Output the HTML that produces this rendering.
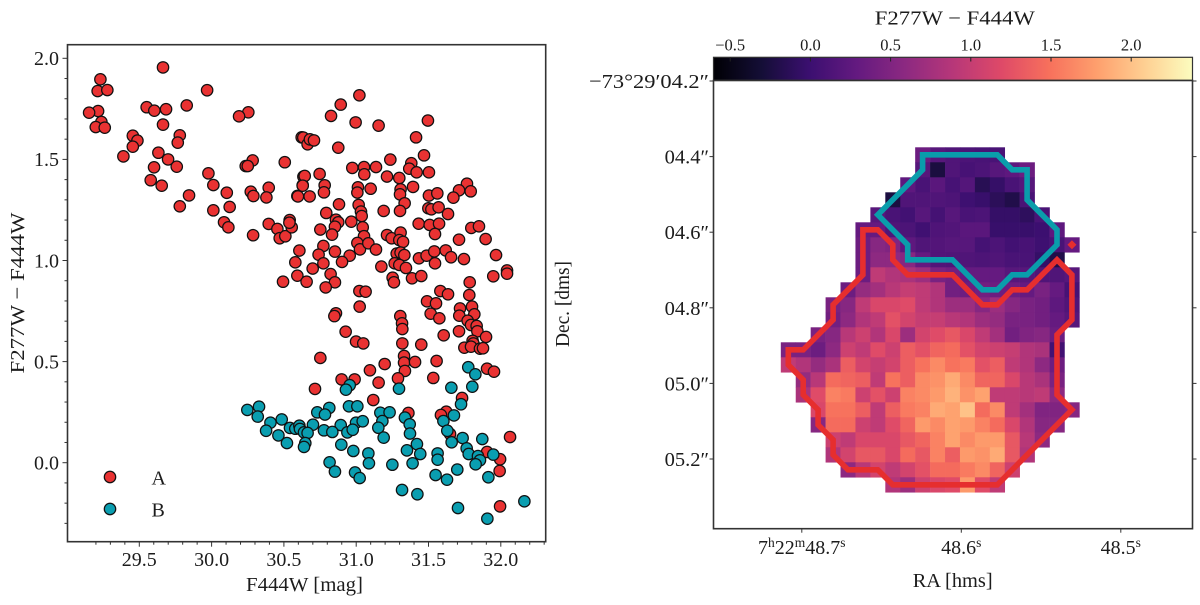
<!DOCTYPE html>
<html lang="en">
<head>
<meta charset="utf-8">
<title>F277W - F444W colour-magnitude diagram and colour map</title>
<style>
html,body{margin:0;padding:0;background:#fff;width:1200px;height:605px;overflow:hidden}
svg{display:block}
text{font-family:"Liberation Serif","DejaVu Serif",serif;fill:#1c1c1c}
</style>
</head>
<body>
<svg id="fig" xmlns="http://www.w3.org/2000/svg" width="1200" height="605" viewBox="0 0 1200 605">
  <defs>
    <linearGradient id="magma" x1="0" y1="0" x2="1" y2="0">
      <stop offset="0" stop-color="#000004"/><stop offset="0.1" stop-color="#140e36"/>
      <stop offset="0.2" stop-color="#3b0f70"/><stop offset="0.3" stop-color="#641a80"/>
      <stop offset="0.4" stop-color="#8c2981"/><stop offset="0.5" stop-color="#b73779"/>
      <stop offset="0.6" stop-color="#de4968"/><stop offset="0.7" stop-color="#f7705c"/>
      <stop offset="0.8" stop-color="#fe9f6d"/><stop offset="0.9" stop-color="#fecf92"/>
      <stop offset="1" stop-color="#fcfdbf"/>
    </linearGradient>
  </defs>
  <g id="left"></g>
  <g id="right"></g>
</svg>
<script>
// ---- scatter data: F444W [mag] and F277W-F444W for each region ----
const seriesAMag = [29.664,29.231,29.212,29.279,29.969,29.551,29.604,29.685,29.828,29.215,29.153,29.238,29.199,29.261,29.664,30.254,30.190,29.455,29.487,29.455,29.390,29.780,29.766,29.632,29.699,29.759,29.602,29.579,29.655,29.978,30.012,29.844,29.780,30.012,30.105,30.125,30.086,30.116,30.287,30.284,30.236,30.250,30.506,30.395,30.271,30.289,30.379,30.593,30.623,30.635,30.630,30.395,30.455,30.471,30.510,30.554,30.540,30.538,30.607,30.579,30.593,30.494,
31.022,30.893,30.826,30.996,31.155,31.496,31.414,30.634,30.664,30.680,30.708,30.876,31.469,31.236,31.381,31.367,31.418,31.503,30.973,31.054,31.056,31.137,31.213,31.298,30.747,30.644,30.630,30.782,30.777,30.597,30.678,31.012,31.008,31.100,31.393,31.307,31.303,31.335,31.503,31.561,31.766,31.711,31.792,31.672,30.881,31.017,31.033,31.038,30.793,31.190,31.303,31.499,31.520,31.570,31.635,31.432,31.508,31.573,31.796,31.849,30.860,30.876,30.853,30.966,30.752,30.833,31.045,31.054,31.008,31.026,31.084,31.137,31.213,31.245,31.307,31.298,31.324,31.545,31.711,31.895,30.773,30.740,30.853,30.773,30.955,30.902,30.699,30.823,30.657,30.853,31.280,31.307,31.333,31.266,31.298,31.344,31.174,31.434,31.487,31.540,31.619,31.656,31.545,31.745,31.967,32.043,32.043,31.948,31.252,31.261,31.386,31.450,31.785,
30.789,31.022,31.065,31.582,31.635,31.782,31.490,31.552,31.024,31.718,31.801,30.860,30.849,31.305,31.515,31.575,31.713,31.817,31.771,31.794,31.833,31.317,31.319,31.838,31.711,30.927,31.605,31.898,30.999,31.049,31.319,31.450,31.805,31.810,31.748,31.794,31.856,31.877,30.752,31.331,31.331,31.407,31.556,31.197,31.095,31.337,31.905,31.953,31.533,30.899,30.989,31.289,31.155,30.715,31.118,31.732,31.361,31.623,31.586,31.649,32.064,31.905,31.995,31.992,31.995];
const seriesAColor = [1.955,1.896,1.838,1.843,1.842,1.758,1.741,1.748,1.767,1.739,1.731,1.685,1.660,1.657,1.672,1.733,1.713,1.617,1.593,1.563,1.515,1.619,1.583,1.533,1.500,1.464,1.461,1.397,1.370,1.431,1.373,1.322,1.268,1.248,1.335,1.265,1.189,1.164,1.125,1.495,1.467,1.467,1.486,1.360,1.340,1.319,1.312,1.319,1.609,1.415,1.373,1.181,1.156,1.110,1.120,1.164,1.200,1.187,1.049,0.991,0.925,0.895,
1.817,1.771,1.715,1.683,1.667,1.692,1.609,1.608,1.575,1.599,1.594,1.558,1.520,1.499,1.481,1.454,1.436,1.436,1.458,1.462,1.426,1.462,1.415,1.408,1.428,1.418,1.370,1.372,1.337,1.317,1.317,1.362,1.336,1.355,1.364,1.352,1.327,1.283,1.321,1.332,1.380,1.347,1.342,1.311,1.278,1.275,1.242,1.220,1.235,1.245,1.245,1.258,1.253,1.263,1.230,1.182,1.176,1.182,1.161,1.169,1.202,1.189,1.167,1.192,1.153,1.128,1.164,1.120,1.087,1.055,1.085,1.054,1.126,1.110,1.138,1.101,1.092,1.131,1.103,1.106,1.072,1.029,1.044,0.986,1.024,0.993,0.960,0.933,0.895,0.892,1.034,1.039,1.027,0.986,0.978,0.963,0.970,1.011,1.024,1.045,1.050,1.016,0.986,1.007,1.027,0.951,0.935,0.922,0.915,0.892,0.912,0.923,0.892,
0.867,0.849,0.846,0.849,0.833,0.829,0.798,0.788,0.772,0.763,0.772,0.739,0.725,0.725,0.737,0.714,0.727,0.734,0.702,0.681,0.676,0.689,0.661,0.650,0.650,0.648,0.630,0.622,0.599,0.590,0.590,0.584,0.603,0.590,0.569,0.574,0.564,0.566,0.518,0.528,0.495,0.498,0.503,0.488,0.457,0.454,0.465,0.450,0.419,0.412,0.412,0.417,0.396,0.365,0.310,0.320,0.246,0.252,0.236,0.142,0.127,0.053,0.017,-0.041,-0.216];
const seriesBMag = [31.775,31.824,31.658,31.803,30.955,30.929,31.296,31.725,30.814,30.731,30.784,30.950,31.008,31.167,31.231,31.181,31.337,31.676,31.603,30.485,30.701,30.893,30.999,31.045,31.370,31.153,30.542,30.579,30.607,30.611,30.639,30.664,30.777,30.835,30.939,30.976,31.630,31.372,31.190,31.736,31.872,31.660,30.521,30.648,30.639,30.897,31.420,30.980,31.351,31.764,31.778,31.084,31.443,31.563,31.563,31.842,31.948,31.856,31.826,31.088,30.816,31.250,31.390,30.853,30.992,31.024,31.549,31.699,31.628,31.914,31.317,31.423,31.704,32.163,31.907,30.247,30.328,30.319,30.407,30.377,30.462];
const seriesBColor = [0.472,0.437,0.371,0.376,0.383,0.361,0.366,0.289,0.271,0.249,0.238,0.279,0.279,0.247,0.249,0.206,0.223,0.234,0.206,0.214,0.188,0.186,0.198,0.205,0.190,0.173,0.172,0.168,0.183,0.167,0.150,0.147,0.160,0.152,0.150,0.163,0.158,0.144,0.124,0.122,0.117,0.101,0.097,0.097,0.078,0.089,0.092,0.058,0.061,0.071,0.043,0.046,0.043,0.046,0.015,0.033,0.040,0.012,-0.008,-0.003,0.002,-0.010,-0.003,-0.044,-0.048,-0.076,-0.061,-0.034,-0.084,-0.072,-0.135,-0.156,-0.224,-0.191,-0.277,0.261,0.277,0.228,0.198,0.158,0.135];
const xTickLabels = ["29.5","30.0","30.5","31.0","31.5","32.0"];
const yTickLabels = ["0.0","0.5","1.0","1.5","2.0"];

// ---- colour map data: F277W-F444W per pixel (rows top to bottom, 20 columns) ----
const _ = null;
const mapValues = [
[_,_,_,_,_,_,_,_,_,.35,.2,.15,.12,.1,.1,_,_,_,_,_],
[_,_,_,_,_,_,_,_,_,.2,-.25,.15,.08,.12,.2,.25,.35,_,_,_],
[_,_,_,_,_,_,_,_,.25,.1,.22,.08,.18,-.15,-.05,.1,.2,_,_,_],
[_,_,_,_,_,_,_,-.25,.15,.15,.15,.13,.02,-.03,-.12,-.2,.1,_,_,_],
[_,_,_,_,_,_,.2,.1,.05,.2,.07,.2,.1,.12,-.05,-.05,-.1,.1,_,_],
[_,_,_,_,_,.3,.3,.15,.12,.03,.14,.16,.22,.22,-.03,-.03,-.03,0,.25,_],
[_,_,_,_,_,.35,.55,.5,.25,.15,.17,.2,.2,.07,.12,.05,.09,.02,.1,.3],
[_,_,_,_,_,.35,.6,.6,.55,.3,.16,.15,.15,.13,.15,.1,.1,-.05,-.2,_],
[_,_,_,_,_,.35,.95,.85,.8,.7,.45,.4,.3,.3,.3,.2,.2,.15,.15,.2],
[_,_,_,_,.35,.65,.75,.9,1,.95,.85,.4,.35,.4,.35,.35,.3,.45,.3,.08],
[_,_,_,.45,.55,.95,1.15,1.15,1.2,.95,.85,.7,.7,.55,.7,.55,.45,.4,.25,.15],
[_,_,_,.4,.6,.85,.95,1.25,1.1,1,1,.9,.85,.7,.65,.45,.45,.4,.3,.2],
[_,_,.45,.55,.9,1.05,.85,1.15,.7,1.1,1.2,1.3,1.15,.95,.75,.4,.5,.55,.35,_],
[.45,.45,.35,.6,1.05,.95,1.2,1.05,1.35,1.25,1.4,1.45,1.25,1.1,1.05,1,.85,.8,.05,_],
[.95,.85,.65,.8,1.35,1.1,1,1.1,1.35,1.5,1.65,1.5,1.55,1.25,1.35,.95,.85,.6,.35,_],
[_,.65,.9,1.45,1.4,1.35,.95,1.5,1.35,1.65,1.7,1.85,1.65,1.4,1.4,1.15,.9,.8,.45,_],
[_,.8,1.2,1.6,1.55,1.05,1.25,1.05,1.6,1.65,1.75,1.9,1.7,1.8,.95,.95,.9,.95,.6,_],
[_,_,1.15,1.5,1.5,1.35,.95,1.35,1.55,1.6,1.85,1.8,2,1.45,1.65,.95,.75,.5,.5,.55],
[_,_,.55,1.45,1.45,1.05,.95,1.2,1.4,1.75,1.65,1.8,1.75,1.6,1.45,1.15,.85,.55,.55,_],
[_,_,_,1.05,.95,1.15,1.15,1.15,1.3,1.4,1.6,1.8,1.65,1.75,1.75,1.3,.9,.6,_,_],
[_,_,_,.85,1.1,1.3,1.3,1.15,1.45,1.3,1.6,1.35,1.75,1.7,1.85,1.3,.85,_,_,_],
[_,_,_,_,.6,.9,1.1,.95,1.1,1.25,1.45,1.45,1.55,1.65,1.4,1.05,_,_,_,_],
[_,_,_,_,_,_,_,.85,.7,1.05,1.15,1.2,1.75,1.2,.95,_,_,_,_,_]
];
// contour vertices in map pixel units (column, row)
const contourBColumns = [9.5,14.5,15.5,16.5,16.5,18.5,18.5,16.5,15.5,14.5,13.5,11.5,8.5,8.5,6.5,9.5];
const contourBRows    = [0.5,0.5,1.5,1.5,3.5,5.5,6.5,8.5,8.5,9.5,9.5,7.5,7.5,6.5,4.5,1.5];
const contourAColumns = [5.5,6.5,7.5,7.5,8.5,11.5,13.5,14.5,15.5,16.5,18.5,19.5,19.5,18.5,18.5,19.5,14.5,7.5,6.5,4.5,3.5,3.5,2.5,2.5,1.5,1.5,0.5,0.5,1.5,3.5,3.5,5.5];
const contourARows    = [5.5,5.5,6.5,7.5,8.5,8.5,10.5,10.5,9.5,9.5,7.5,8.5,11.5,12.5,16.5,17.5,22.5,22.5,21.5,21.5,20.5,19.5,18.5,17.5,16.5,15.5,14.5,13.5,13.5,11.5,10.5,8.5];
const isolatedPixelColumn = [19.5];
const isolatedPixelRow = [6.5];
const raTickLabels = [["7","h","22","m","48.7","s"],["48.6","s"],["48.5","s"]];
const decTickLabels = ["\u221273\u00b029\u203204.2\u2033","04.4\u2033","04.6\u2033","04.8\u2033","05.0\u2033","05.2\u2033"];
const colorbarTicks = ["\u22120.5","0.0","0.5","1.0","1.5","2.0"];

// ---- helpers ----
const NS = "http://www.w3.org/2000/svg";
function mk(parent, tag, props, txt){
  const e = document.createElementNS(NS, tag);
  for (const k in props) e.setAttribute(k, props[k]);
  if (txt !== undefined) e.textContent = txt;
  parent.appendChild(e);
  return e;
}
const left = document.getElementById("left");
const right = document.getElementById("right");

// ---- scatter axes ----
const xMag = v => 139.3 + (v - 29.5) * 144.6;
const yCol = v => 462.7 - v * 202.2;
const L = {l:67.5, r:545.7, t:44.7, b:541.7};
const RED = "#e93232", TEAL = "#0a9eb0";

function dots(xs, ys, fill, name){
  const g = mk(left, "g", {});
  
  
  xs.forEach((x, i) => {
    const c = mk(g, "circle", {cx:xMag(x).toFixed(2), cy:yCol(ys[i]).toFixed(2), r:5.7, fill:fill, stroke:"#111", "stroke-width":1.25});
    
    
  });
}
dots(seriesAMag, seriesAColor, RED, "series-a-points");
dots(seriesBMag, seriesBColor, TEAL, "series-b-points");

const lframe = mk(left, "rect", {x:L.l, y:L.t, width:L.r-L.l, height:L.b-L.t, fill:"none", stroke:"#333", "stroke-width":1.6});



// minor + major ticks are placed from the axis functions
for (let i = 0; i <= 32; i++){
  const v = 29.2 + i * 0.1;
  const px = xMag(v);
  if (px < L.l || px > L.r) continue;
  const major = Math.abs(v * 2 - Math.round(v * 2)) < 1e-6;
  const t = mk(left, "line", {x1:px, x2:px, y1:L.b, y2:L.b + (major ? 5 : 3), stroke:"#333", "stroke-width":1});
  
  
}
for (let i = 0; i <= 30; i++){
  const v = -0.3 + i * 0.1;
  const py = yCol(v);
  if (py < L.t || py > L.b) continue;
  const major = Math.abs(v * 2 - Math.round(v * 2)) < 1e-6;
  const t = mk(left, "line", {x1:L.l, x2:L.l - (major ? 5 : 3), y1:py, y2:py, stroke:"#333", "stroke-width":1});
  
  
}
xTickLabels.forEach(s => {
  const t = mk(left, "text", {x:xMag(parseFloat(s)), y:566, "text-anchor":"middle", "font-size":20}, s);
  
  
});
yTickLabels.forEach(s => {
  const t = mk(left, "text", {x:59, y:yCol(parseFloat(s)) + 6.8, "text-anchor":"end", "font-size":20}, s);
  
  
});
const xt = mk(left, "text", {x:304.5, y:591, "text-anchor":"middle", "font-size":20, textLength:117, lengthAdjust:"spacingAndGlyphs"}, "F444W [mag]");


const yt = mk(left, "text", {x:0, y:0, transform:"translate(24 293) rotate(-90)", "text-anchor":"middle", "font-size":20.5, textLength:161, lengthAdjust:"spacingAndGlyphs"}, "F277W \u2212 F444W");



// legend
const legendEntries = [["A", RED], ["B", TEAL]];
legendEntries.forEach((en, i) => {
  const g = mk(left, "g", {});
  
  
  const yy = 477 + i * 32;
  mk(g, "circle", {cx:110, cy:yy, r:5.7, fill:en[1], stroke:"#111", "stroke-width":1.25});
  mk(g, "text", {x:151.5, y:yy + 7.6, "font-size":20}, en[0]);
});

// ---- colour map ----
const R = {l:713.5, r:1192.5, t:80.5, b:528.7};
const vMin = -0.6, vMax = 2.38;
const magma = [[0,0,4],[20,14,54],[59,15,112],[100,26,128],[140,41,129],[183,55,121],[222,73,104],[247,112,92],[254,159,109],[254,207,146],[252,253,191]];
function cmap(v){
  let t = (v - vMin) / (vMax - vMin) * 10;
  t = Math.max(0, Math.min(9.999, t));
  const i = Math.floor(t), f = t - i;
  const c = magma[i].map((a, k) => Math.round(a + (magma[i + 1][k] - a) * f));
  return "rgb(" + c.join(",") + ")";
}
const colX = c => 780.8 + c * 14.93;
const rowY = r => 147.3 + r * 15;

const cellsG = mk(right, "g", {});


mapValues.forEach((row, r) => {
  row.forEach((v, c) => {
    if (v === null) return;
    const cell = mk(cellsG, "rect", {x:colX(c).toFixed(2), y:rowY(r).toFixed(2), width:15.2, height:15.25, fill:cmap(v)});
    
    
  });
});

function contour(cols, rows, color, name){
  const pts = cols.map((c, i) => colX(c).toFixed(1) + "," + rowY(rows[i]).toFixed(1)).join(" ");
  const p = mk(right, "polygon", {points:pts, fill:"none", stroke:color, "stroke-width":5.6, "stroke-linejoin":"miter"});
  
  
}
contour(contourAColumns, contourARows, "#e62e2e", "region-a-contour");
contour(contourBColumns, contourBRows, "#0a9dab", "region-b-contour");
isolatedPixelColumn.forEach((c, i) => {
  const px = colX(c), py = rowY(isolatedPixelRow[i]);
  const d = mk(right, "polygon", {points:[[px-4.5,py],[px,py-4.5],[px+4.5,py],[px,py+4.5]].map(a => a.join(",")).join(" "), fill:"#e62e2e"});
  
  
});

const rframe = mk(right, "rect", {x:R.l, y:R.t, width:R.r-R.l, height:R.b-R.t, fill:"none", stroke:"#333", "stroke-width":1.6});



// RA ticks
const raX = s => 961.3 + (48.6 - s) * 1595;
raTickLabels.forEach((parts, i) => {
  const px = raX(48.7 - i * 0.1);
  const tk = mk(right, "line", {x1:px, x2:px, y1:R.b, y2:R.b + 4, stroke:"#333", "stroke-width":1});
  
  
  const t = mk(right, "text", {x:px, y:554, "text-anchor":"middle", "font-size":20});
  
  
  parts.forEach((p, j) => {
    const sup = /^[hms]$/.test(p);
    mk(t, "tspan", sup ? {"font-size":13.5, dy:-7} : (j > 0 ? {dy:7} : {}), p);
  });
});
const raT = mk(right, "text", {x:952.7, y:587, "text-anchor":"middle", "font-size":20.5, textLength:80, lengthAdjust:"spacingAndGlyphs"}, "RA [hms]");



// Dec ticks
const decY = i => 81 + i * 75.6;
decTickLabels.forEach((s, i) => {
  const py = decY(i);
  [[R.l, R.l - 4], [R.r, R.r + 4]].forEach(a => {
    const tk = mk(right, "line", {x1:a[0], x2:a[1], y1:py, y2:py, stroke:"#333", "stroke-width":1});
    
    
  });
  const props = {x:709, y:py + 7, "text-anchor":"end", "font-size":20.5};
  if (i === 0) { props.textLength = 120; props.lengthAdjust = "spacingAndGlyphs"; }
  const t = mk(right, "text", props, s);
  
  
});
const decT = mk(right, "text", {x:0, y:0, transform:"translate(569 304) rotate(-90)", "text-anchor":"middle", "font-size":20, textLength:86, lengthAdjust:"spacingAndGlyphs"}, "Dec. [dms]");



// colour bar
const cbX = v => 810.4 + v * 160.4;
const cb = mk(right, "rect", {x:R.l, y:57.3, width:R.r-R.l, height:22.9, fill:"url(#magma)", stroke:"#333", "stroke-width":1.2});


colorbarTicks.forEach(s => {
  const v = parseFloat(s.replace("\u2212", "-"));
  const px = cbX(v);
  const tk = mk(right, "line", {x1:px, x2:px, y1:57.3, y2:61.5, stroke:"#222", "stroke-width":1});
  
  
  const t = mk(right, "text", {x:px, y:50.5, "text-anchor":"middle", "font-size":16.5}, s);
  
  
});
const cbT = mk(right, "text", {x:954.8, y:24.5, "text-anchor":"middle", "font-size":20, textLength:160, lengthAdjust:"spacingAndGlyphs"}, "F277W \u2212 F444W");


</script>
</body>
</html>
